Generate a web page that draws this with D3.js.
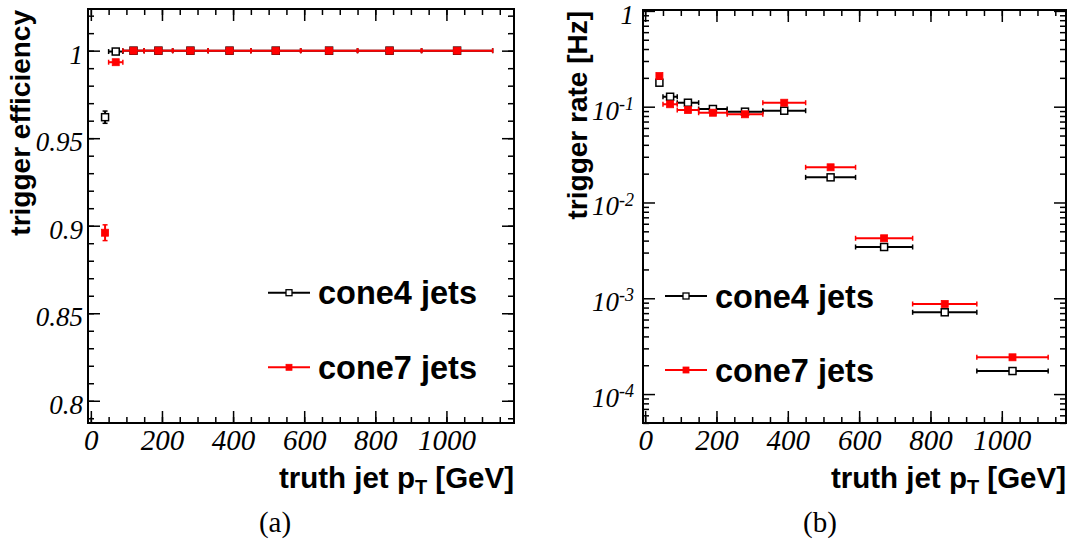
<!DOCTYPE html>
<html lang="en">
<head>
<meta charset="utf-8">
<title>Trigger efficiency and rate</title>
<script src="https://d3js.org/d3.v7.min.js"></script>
<style>
body { margin: 0; background: #fff; }
.tick text { font-family: "Liberation Serif", "Times New Roman", serif; font-style: italic; font-size: 27px; fill: #000; }
.xax .tick text { font-size: 29px; }
.tick line { stroke: #000; stroke-width: 1.5; }
.domain { display: none; }
.atitle { font-family: "Liberation Sans", Arial, sans-serif; font-weight: bold; font-size: 28px; }
.xtitle { font-size: 29.5px; }
.legend { font-family: "Liberation Sans", Arial, sans-serif; font-weight: bold; font-size: 32.5px; }
.caption { font-family: "Liberation Serif", "Times New Roman", serif; font-size: 29px; }
</style>
</head>
<body>
<script>
// bins in truth jet pT (GeV)
var binLo     = [35, 50, 90, 150, 230, 330, 450, 590, 750, 930];
var binHi     = [45, 90, 150, 230, 330, 450, 590, 750, 930, 1130];
var binCenter = [40, 70, 120, 190, 280, 390, 520, 670, 840, 1030];

// panel (a): trigger efficiency
var effCone4    = [0.962, 0.9995, 1, 1, 1, 1, 1, 1, 1, 1];
var effErrCone4 = [0.0035, 0.0005, 0, 0, 0, 0, 0, 0, 0, 0];
var effCone7    = [0.896, 0.9934, 1, 1, 1, 1, 1, 1, 1, 1];
var effErrCone7 = [0.0045, 0.001, 0, 0, 0, 0, 0, 0, 0, 0];

// panel (b): trigger rate (Hz)
var rateCone4 = [0.178, 0.127, 0.110, 0.0946, 0.0887, 0.0908, 0.0183, 0.00343, 0.000714, 0.000174];
var rateCone7 = [0.209, 0.106, 0.0924, 0.0865, 0.0833, 0.110, 0.0233, 0.00423, 0.000872, 0.000242];

var xTicks = [0, 200, 400, 600, 800, 1000];
var effTicks = [0.8, 0.85, 0.9, 0.95, 1];
var effTickLabels = ["0.8", "0.85", "0.9", "0.95", "1"];
var rateTicks = [1e-4, 1e-3, 1e-2, 1e-1, 1];
var rateTickBase = ["10", "10", "10", "10", "1"];
var rateTickExp = ["-4", "-3", "-2", "-1", ""];
var seriesNames = ["cone4 jets", "cone7 jets"];
var seriesColors = ["#000000", "#ff0000"];

var svg = d3.select("body").append("svg")
    .attr("width", 1075)
    .attr("height", 542);

function drawPanel(p) {
    var g = svg.append("g");
    var x = d3.scaleLinear().domain(p.xDomain).range([p.left, p.right]);
    var y = p.y;

    // minor ticks on all sides
    g.append("g").attr("transform", "translate(0," + p.bottom + ")")
        .call(d3.axisBottom(x).tickValues(d3.range(0, 1200, 50)).tickSize(-6).tickFormat(""));
    g.append("g").attr("transform", "translate(0," + p.top + ")")
        .call(d3.axisTop(x).tickValues(d3.range(0, 1200, 50)).tickSize(-6).tickFormat(""));
    g.append("g").attr("transform", "translate(" + p.left + ",0)")
        .call(d3.axisLeft(y).tickValues(p.yMinor).tickSize(-6).tickFormat(""));
    g.append("g").attr("transform", "translate(" + p.right + ",0)")
        .call(d3.axisRight(y).tickValues(p.yMinor).tickSize(-6).tickFormat(""));

    // major ticks
    var xb = g.append("g").attr("class", "xax").attr("transform", "translate(0," + p.bottom + ")")
        .call(d3.axisBottom(x).tickValues(xTicks).tickSize(-12).tickPadding(6).tickFormat(d3.format("d")));
    xb.selectAll(".tick text").attr("dy", "0.72em");
    g.append("g").attr("transform", "translate(0," + p.top + ")")
        .call(d3.axisTop(x).tickValues(xTicks).tickSize(-12).tickFormat(""));
    g.append("g").attr("transform", "translate(" + p.right + ",0)")
        .call(d3.axisRight(y).tickValues(p.yTicks).tickSize(-12).tickFormat(""));
    var yl = g.append("g").attr("transform", "translate(" + p.left + ",0)")
        .call(d3.axisLeft(y).tickValues(p.yTicks).tickSize(-12).tickPadding(p.yPad).tickFormat(""));
    yl.selectAll(".tick").append("text")
        .attr("x", -p.yPad)
        .attr("dy", "0.46em")
        .attr("text-anchor", "end")
        .each(function (d, i) {
            var t = d3.select(this);
            t.text(p.yLabels[i]);
            if (p.yExp && p.yExp[i]) {
                t.append("tspan").attr("font-size", "18px").attr("dy", "-0.55em").text(p.yExp[i]);
            }
        });

    // frame
    g.append("rect")
        .attr("x", p.left).attr("y", p.top)
        .attr("width", p.right - p.left).attr("height", p.bottom - p.top)
        .attr("fill", "none").attr("stroke", "#000").attr("stroke-width", 2);

    // data with error bars
    p.series.forEach(function (s, si) {
        var col = seriesColors[si];
        var pts = s.vals.map(function (v, i) {
            return { lo: binLo[i], hi: binHi[i], c: binCenter[i], v: v, e: s.errs ? s.errs[i] : 0 };
        });
        var sg = g.append("g");
        sg.selectAll(".hbar").data(pts).enter().append("line")
            .attr("x1", function (d) { return x(d.lo); })
            .attr("x2", function (d) { return x(d.hi); })
            .attr("y1", function (d) { return y(d.v); })
            .attr("y2", function (d) { return y(d.v); })
            .attr("stroke", col).attr("stroke-width", 2);
        ["lo", "hi"].forEach(function (k) {
            sg.selectAll(".cap" + k).data(pts).enter().append("line")
                .attr("x1", function (d) { return x(d[k]); })
                .attr("x2", function (d) { return x(d[k]); })
                .attr("y1", function (d) { return y(d.v) - 2.5; })
                .attr("y2", function (d) { return y(d.v) + 2.5; })
                .attr("stroke", col).attr("stroke-width", 1.5);
        });
        var ve = pts.filter(function (d) { return d.e > 0.0008; });
        sg.selectAll(".vbar").data(ve).enter().append("line")
            .attr("x1", function (d) { return x(d.c); })
            .attr("x2", function (d) { return x(d.c); })
            .attr("y1", function (d) { return y(d.v - d.e); })
            .attr("y2", function (d) { return y(d.v + d.e); })
            .attr("stroke", col).attr("stroke-width", 2);
        [-1, 1].forEach(function (sgn) {
            sg.selectAll(".vcap").data(ve).enter().append("line")
                .attr("x1", function (d) { return x(d.c) - 2.5; })
                .attr("x2", function (d) { return x(d.c) + 2.5; })
                .attr("y1", function (d) { return y(d.v + sgn * d.e); })
                .attr("y2", function (d) { return y(d.v + sgn * d.e); })
                .attr("stroke", col).attr("stroke-width", 1.5);
        });
        sg.selectAll(".mark").data(pts).enter().append("rect")
            .attr("x", function (d) { return x(d.c) - 3.5; })
            .attr("y", function (d) { return y(d.v) - 3.5; })
            .attr("width", 7).attr("height", 7)
            .attr("fill", si === 0 ? "#fff" : col)
            .attr("stroke", col).attr("stroke-width", si === 0 ? 1.5 : 0.8);
    });

    // legend
    seriesNames.forEach(function (name, i) {
        var ly = p.legendY[i];
        g.append("line")
            .attr("x1", p.legendX).attr("x2", p.legendX + 42)
            .attr("y1", ly).attr("y2", ly)
            .attr("stroke", seriesColors[i]).attr("stroke-width", 2);
        g.append("rect")
            .attr("x", p.legendX + 21 - 3).attr("y", ly - 3)
            .attr("width", 6).attr("height", 6)
            .attr("fill", i === 0 ? "#fff" : seriesColors[i])
            .attr("stroke", seriesColors[i]).attr("stroke-width", i === 0 ? 1.3 : 0.8);
        g.append("text").attr("class", "legend")
            .attr("x", p.legendX + 50).attr("y", ly + 11.5)
            .text(name);
    });

    // axis titles
    var xt = g.append("text").attr("class", "atitle xtitle")
        .attr("x", p.right).attr("y", 488)
        .attr("text-anchor", "end")
        .text("truth jet p");
    xt.append("tspan").attr("font-size", "20px").attr("dy", "0.32em").text("T");
    xt.append("tspan").attr("dy", "-0.22em").text(" [GeV]");

    g.append("text").attr("class", "atitle")
        .attr("transform", "translate(" + p.yTitleX + "," + (p.top + 1) + ") rotate(-90)")
        .attr("text-anchor", "end")
        .text(p.yTitle);

    g.append("text").attr("class", "caption")
        .attr("x", p.captionX).attr("y", 532)
        .attr("text-anchor", "middle")
        .text(p.caption);
}

// panel (a)
var effMinor = d3.range(79, 103).map(function (k) { return k / 100; });
drawPanel({
    left: 88, right: 514, top: 9, bottom: 423,
    xDomain: [-8, 1190],
    y: d3.scaleLinear().domain([0.7873, 1.0238]).range([423, 9]),
    yTicks: effTicks, yLabels: effTickLabels, yMinor: effMinor, yPad: 5,
    series: [{ vals: effCone4, errs: effErrCone4 }, { vals: effCone7, errs: effErrCone7 }],
    legendX: 268, legendY: [292.7, 367.3],
    yTitle: "trigger efficiency", yTitleX: 30,
    caption: "(a)", captionX: 275
});

// panel (b)
var rateMinor = [];
[-5, -4, -3, -2, -1].forEach(function (k) {
    for (var m = 2; m <= 9; m++) { rateMinor.push(m * Math.pow(10, k)); }
});
rateMinor = rateMinor.filter(function (v) { return v > Math.pow(10, -4.302); });
drawPanel({
    left: 643, right: 1066, top: 10, bottom: 423,
    xDomain: [-6, 1180],
    y: d3.scaleLog().domain([Math.pow(10, -4.302), Math.pow(10, 0.0094)]).range([423, 10]),
    yTicks: rateTicks, yLabels: rateTickBase, yExp: rateTickExp, yMinor: rateMinor, yPad: 9,
    series: [{ vals: rateCone4 }, { vals: rateCone7 }],
    legendX: 665, legendY: [296, 370],
    yTitle: "trigger rate [Hz]", yTitleX: 587,
    caption: "(b)", captionX: 820
});
</script>
</body>
</html>
